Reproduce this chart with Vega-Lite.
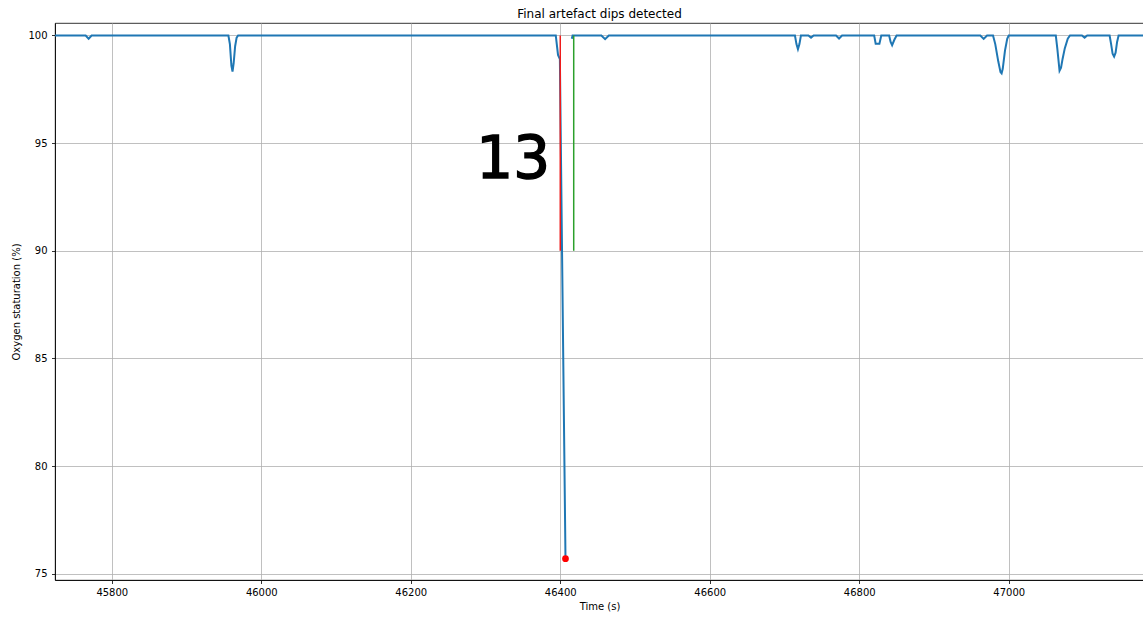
{
  "$schema": "https://vega.github.io/schema/vega-lite/v6.json",
  "width": 1089,
  "height": 557,
  "autosize": {"type": "none"},
  "padding": {"left": 55, "top": 23, "right": 0, "bottom": 37},
  "background": "white",
  "title": {
    "text": "Final artefact dips detected",
    "font": "DejaVu Sans",
    "fontSize": 12,
    "fontWeight": "normal",
    "color": "black",
    "anchor": "middle",
    "frame": "group",
    "baseline": "alphabetic",
    "offset": -6.5
  },
  "config": {
    "view": {"stroke": "black", "strokeWidth": 0.8},
    "axis": {
      "labelFont": "DejaVu Sans",
      "labelFontSize": 10,
      "labelColor": "black",
      "titleFont": "DejaVu Sans",
      "titleFontSize": 10,
      "titleFontWeight": "normal",
      "titleColor": "black",
      "domainColor": "black",
      "domainWidth": 0.8,
      "tickColor": "black",
      "tickWidth": 0.8,
      "tickSize": 3.5,
      "gridColor": "#b0b0b0",
      "gridWidth": 0.8,
      "labelPadding": 4
    }
  },
  "datasets": {
    "spo2": [
      {"t": 45724, "v": 100, "seg": 1},
      {"t": 45765, "v": 100, "seg": 1},
      {"t": 45769, "v": 99.85, "seg": 1},
      {"t": 45773, "v": 100, "seg": 1},
      {"t": 45956, "v": 100, "seg": 1},
      {"t": 45958, "v": 99.6, "seg": 1},
      {"t": 45960, "v": 98.6, "seg": 1},
      {"t": 45961.5, "v": 98.32, "seg": 1},
      {"t": 45963, "v": 98.7, "seg": 1},
      {"t": 45965, "v": 99.5, "seg": 1},
      {"t": 45967, "v": 99.9, "seg": 1},
      {"t": 45969, "v": 100, "seg": 1},
      {"t": 46394, "v": 100, "seg": 1},
      {"t": 46397, "v": 99.1, "seg": 1},
      {"t": 46399.5, "v": 98.9, "seg": 1},
      {"t": 46407, "v": 75.7, "seg": 1},
      {"t": 46415.5, "v": 99.85, "seg": 2},
      {"t": 46416.5, "v": 100, "seg": 2},
      {"t": 46455, "v": 100, "seg": 2},
      {"t": 46460, "v": 99.83, "seg": 2},
      {"t": 46465, "v": 100, "seg": 2},
      {"t": 46714, "v": 100, "seg": 2},
      {"t": 46716, "v": 99.6, "seg": 2},
      {"t": 46718, "v": 99.36, "seg": 2},
      {"t": 46720, "v": 99.6, "seg": 2},
      {"t": 46722, "v": 100, "seg": 2},
      {"t": 46732, "v": 100, "seg": 2},
      {"t": 46735.5, "v": 99.9, "seg": 2},
      {"t": 46739, "v": 100, "seg": 2},
      {"t": 46769, "v": 100, "seg": 2},
      {"t": 46773, "v": 99.86, "seg": 2},
      {"t": 46777, "v": 100, "seg": 2},
      {"t": 46820, "v": 100, "seg": 2},
      {"t": 46822, "v": 99.62, "seg": 2},
      {"t": 46827, "v": 99.62, "seg": 2},
      {"t": 46829.5, "v": 100, "seg": 2},
      {"t": 46840, "v": 100, "seg": 2},
      {"t": 46842, "v": 99.7, "seg": 2},
      {"t": 46844, "v": 99.55, "seg": 2},
      {"t": 46847, "v": 99.8, "seg": 2},
      {"t": 46850, "v": 100, "seg": 2},
      {"t": 46962, "v": 100, "seg": 2},
      {"t": 46966.5, "v": 99.84, "seg": 2},
      {"t": 46971, "v": 100, "seg": 2},
      {"t": 46979, "v": 100, "seg": 2},
      {"t": 46982, "v": 99.6, "seg": 2},
      {"t": 46986, "v": 98.8, "seg": 2},
      {"t": 46989, "v": 98.3, "seg": 2},
      {"t": 46990.5, "v": 98.24, "seg": 2},
      {"t": 46992, "v": 98.45, "seg": 2},
      {"t": 46995, "v": 99.3, "seg": 2},
      {"t": 46998, "v": 99.85, "seg": 2},
      {"t": 47000, "v": 100, "seg": 2},
      {"t": 47063, "v": 100, "seg": 2},
      {"t": 47065, "v": 99.4, "seg": 2},
      {"t": 47068, "v": 98.36, "seg": 2},
      {"t": 47070, "v": 98.5, "seg": 2},
      {"t": 47072, "v": 98.9, "seg": 2},
      {"t": 47075, "v": 99.4, "seg": 2},
      {"t": 47079, "v": 99.85, "seg": 2},
      {"t": 47082, "v": 100, "seg": 2},
      {"t": 47098, "v": 100, "seg": 2},
      {"t": 47101.5, "v": 99.9, "seg": 2},
      {"t": 47105, "v": 100, "seg": 2},
      {"t": 47135, "v": 100, "seg": 2},
      {"t": 47137, "v": 99.6, "seg": 2},
      {"t": 47139, "v": 99.15, "seg": 2},
      {"t": 47141, "v": 99.02, "seg": 2},
      {"t": 47143, "v": 99.2, "seg": 2},
      {"t": 47145, "v": 99.7, "seg": 2},
      {"t": 47147, "v": 100, "seg": 2},
      {"t": 47181, "v": 100, "seg": 2}
    ],
    "bounds": [
      {"t": 46400, "lo": 90, "hi": 100, "kind": "start"},
      {"t": 46418, "lo": 90, "hi": 100, "kind": "end"}
    ],
    "minimum": [
      {"t": 46407, "v": 75.7}
    ],
    "note": [
      {"t": 46337, "v": 93.4, "label": "13"}
    ]
  },
  "encoding": {
    "x": {
      "field": "t",
      "type": "quantitative",
      "scale": {"domain": [45724, 47181], "nice": false, "zero": false},
      "axis": {
        "title": "Time (s)",
        "values": [45800, 46000, 46200, 46400, 46600, 46800, 47000],
        "format": "d",
        "grid": true,
        "titlePadding": 4
      }
    }
  },
  "layer": [
    {
      "data": {"name": "spo2"},
      "mark": {"type": "line", "color": "#1f77b4", "strokeWidth": 2, "clip": true},
      "encoding": {
        "y": {
          "field": "v",
          "type": "quantitative",
          "scale": {"domain": [74.71, 100.58], "nice": false, "zero": false},
          "axis": {
            "title": "Oxygen staturation (%)",
            "values": [75, 80, 85, 90, 95, 100],
            "grid": true,
            "labelPadding": 4.5,
            "titlePadding": 6
          }
        },
        "detail": {"field": "seg"}
      }
    },
    {
      "data": {"name": "bounds"},
      "mark": {"type": "rule", "strokeWidth": 1.5},
      "encoding": {
        "y": {"field": "lo", "type": "quantitative"},
        "y2": {"field": "hi"},
        "color": {
          "field": "kind",
          "type": "nominal",
          "scale": {"domain": ["start", "end"], "range": ["#ee1c1c", "#2ca02c"]},
          "legend": null
        }
      }
    },
    {
      "data": {"name": "minimum"},
      "mark": {"type": "point", "filled": true, "color": "red", "size": 45, "opacity": 1},
      "encoding": {
        "y": {"field": "v", "type": "quantitative"}
      }
    },
    {
      "data": {"name": "note"},
      "mark": {"type": "text", "font": "DejaVu Sans", "fontSize": 58, "color": "black", "stroke": "black", "strokeWidth": 1.5, "align": "center", "baseline": "alphabetic"},
      "encoding": {
        "y": {"field": "v", "type": "quantitative"},
        "text": {"field": "label"}
      }
    }
  ]
}
